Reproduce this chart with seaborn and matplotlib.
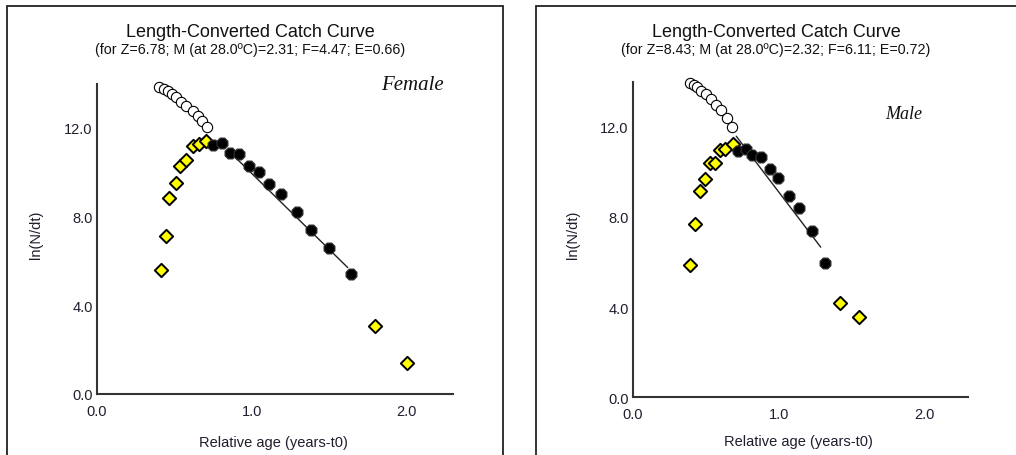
import numpy as np
import pandas as pd
import matplotlib
matplotlib.use("Agg")
import matplotlib.pyplot as plt
from matplotlib.patches import Rectangle
import seaborn as sns

# ---------------- data ----------------
# Female
f_open_x = [0.403, 0.431, 0.457, 0.485, 0.513, 0.544, 0.578, 0.619, 0.652, 0.677, 0.708]
f_open_y = [13.85, 13.74, 13.65, 13.52, 13.37, 13.17, 12.99, 12.77, 12.53, 12.32, 12.05]
f_yel_x = [0.414, 0.447, 0.468, 0.511, 0.537, 0.578, 0.617, 0.662, 0.705, 1.799, 2.002]
f_yel_y = [5.57, 7.11, 8.82, 9.52, 10.30, 10.55, 11.17, 11.29, 11.42, 3.07, 1.39]
f_blk_x = [0.751, 0.807, 0.859, 0.915, 0.982, 1.049, 1.113, 1.191, 1.290, 1.383, 1.500, 1.640]
f_blk_y = [11.21, 11.32, 10.88, 10.81, 10.30, 10.03, 9.48, 9.00, 8.19, 7.38, 6.57, 5.43]
f_reg_x = [0.86, 1.62]
f_reg_y = [10.90, 5.70]

# Male
m_open_x = [0.390, 0.417, 0.440, 0.470, 0.502, 0.537, 0.571, 0.606, 0.642, 0.681]
m_open_y = [13.95, 13.86, 13.77, 13.62, 13.45, 13.24, 13.00, 12.74, 12.40, 12.00]
m_yel_x = [0.394, 0.424, 0.463, 0.493, 0.528, 0.560, 0.596, 0.633, 0.688, 1.422, 1.555]
m_yel_y = [5.87, 7.70, 9.17, 9.67, 10.41, 10.41, 11.00, 11.04, 11.23, 4.18, 3.57]
m_blk_x = [0.722, 0.773, 0.819, 0.881, 0.940, 0.998, 1.069, 1.142, 1.232, 1.321]
m_blk_y = [10.94, 11.03, 10.75, 10.67, 10.14, 9.74, 8.94, 8.40, 7.37, 5.95]
m_reg_x = [0.709, 1.289]
m_reg_y = [11.59, 6.66]

x_ticks = [0.0, 1.0, 2.0]
x_ticklabels = ["0.0", "1.0", "2.0"]
y_ticks = [0.0, 4.0, 8.0, 12.0]
y_ticklabels = ["0.0", "4.0", "8.0", "12.0"]

titles = ["Length-Converted Catch Curve", "Length-Converted Catch Curve"]
subtitles = ["(for Z=6.78; M (at 28.0\u00baC)=2.31; F=4.47; E=0.66)",
             "(for Z=8.43; M (at 28.0\u00baC)=2.32; F=6.11; E=0.72)"]
sex_labels = ["Female", "Male"]

# ---------------- style ----------------
sns.set_style("white")
plt.rcParams["font.family"] = ["Liberation Sans", "DejaVu Sans"]
AX_COL = "#333333"
TXT_COL = "#1e1e2e"

fig = plt.figure(figsize=(10.16, 4.56), dpi=100)
fig.patch.set_facecolor("white")

# panel frames
fig.patches.append(Rectangle((7 / 1016, -0.05), 496 / 1016, 1.05 - 7 / 456,
                             transform=fig.transFigure, fill=False,
                             edgecolor="#222222", linewidth=1.3, zorder=0))
fig.patches.append(Rectangle((536 / 1016, -0.05), 0.6, 1.05 - 7 / 456,
                             transform=fig.transFigure, fill=False,
                             edgecolor="#222222", linewidth=1.3, zorder=0))

ax_f = fig.add_axes([97 / 1016, 1 - 395 / 456, 356 / 1016, 310.5 / 456])
ax_m = fig.add_axes([633 / 1016, 1 - 398 / 456, 335 / 1016, 315 / 456])

panels = [
    dict(ax=ax_f, ox=f_open_x, oy=f_open_y, yx=f_yel_x, yy=f_yel_y,
         bx=f_blk_x, by=f_blk_y, rx=f_reg_x, ry=f_reg_y,
         title_xy=(0.43, 1.166), sub_y=1.111,
         ylab=(-0.171, 0.516), xlab=(0.497, -0.155),
         sex_xy=(2.24, 13.95), sex_ha="right", sex_fs=15),
    dict(ax=ax_m, ox=m_open_x, oy=m_open_y, yx=m_yel_x, yy=m_yel_y,
         bx=m_blk_x, by=m_blk_y, rx=m_reg_x, ry=m_reg_y,
         title_xy=(0.427, 1.159), sub_y=1.105,
         ylab=(-0.179, 0.517), xlab=(0.495, -0.14),
         sex_xy=(1.86, 12.6), sex_ha="center", sex_fs=13),
]

for i, p in enumerate(panels):
    ax = p["ax"]
    sns.lineplot(x=p["rx"], y=p["ry"], ax=ax, color="#222222", linewidth=1.0,
                 zorder=2)
    sns.scatterplot(x=p["ox"], y=p["oy"], ax=ax, marker="o", s=55,
                    facecolor="white", edgecolor="black", linewidth=0.8,
                    zorder=3, clip_on=False)
    sns.scatterplot(x=p["yx"], y=p["yy"], ax=ax, marker="D", s=46,
                    color="#ffff00", edgecolor="black", linewidth=1.4,
                    zorder=4, clip_on=False)
    sns.scatterplot(x=p["bx"], y=p["by"], ax=ax, marker="8", s=72,
                    color="black", edgecolor="#333333", linewidth=0.8,
                    zorder=4, clip_on=False)

    ax.set_xlim(0, 2.3)
    ax.set_ylim(0, 14)
    ax.set_xticks(x_ticks)
    ax.set_xticklabels(x_ticklabels)
    ax.set_yticks(y_ticks)
    ax.set_yticklabels(y_ticklabels)
    ax.tick_params(direction="in", length=5, width=1.2, color=AX_COL,
                   labelsize=10.5, labelcolor=TXT_COL)
    ax.tick_params(axis="x", pad=7)
    ax.tick_params(axis="y", pad=3)
    for s in ["top", "right"]:
        ax.spines[s].set_visible(False)
    for s in ["left", "bottom"]:
        ax.spines[s].set_color(AX_COL)
        ax.spines[s].set_linewidth(1.5)
    ax.set_facecolor("none")

    ax.set_ylabel("ln(N/dt)", fontsize=10.5, color=TXT_COL, va="center")
    ax.yaxis.set_label_coords(*p["ylab"])
    ax.set_xlabel("Relative age (years-t0)", fontsize=10.5, color=TXT_COL,
                  va="center")
    ax.xaxis.set_label_coords(*p["xlab"])

    tx, ty = p["title_xy"]
    ax.text(tx, ty, titles[i], transform=ax.transAxes, ha="center",
            va="center", fontsize=13, color="#111111")
    ax.text(tx, p["sub_y"], subtitles[i], transform=ax.transAxes, ha="center",
            va="center", fontsize=10.3, color="#111111")
    ax.text(p["sex_xy"][0], p["sex_xy"][1], sex_labels[i],
            ha=p["sex_ha"], va="center", fontsize=p["sex_fs"], style="italic",
            family=["Liberation Serif", "DejaVu Serif"], color="#111111")

fig.savefig("out.png", dpi=100, facecolor="white")
